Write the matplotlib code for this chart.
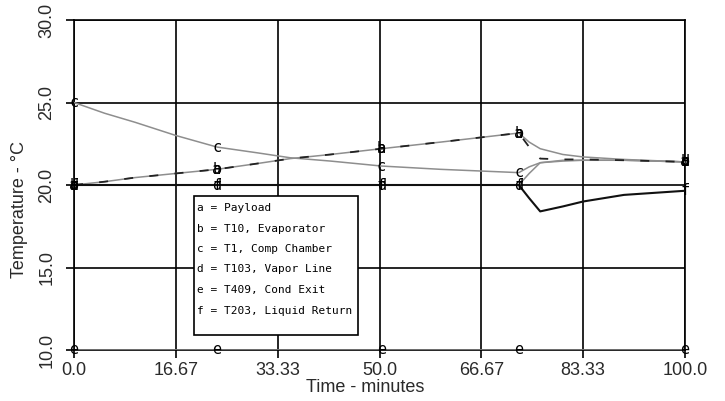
import matplotlib
matplotlib.use("Agg")
import matplotlib.pyplot as plt
from matplotlib.patches import Rectangle

plt.rcParams['font.family'] = ['Liberation Sans', 'DejaVu Sans']

# ---- data ----
time = [0, 5, 10, 16.67, 23.4, 30, 35.4, 42, 50.3, 60, 72.8, 74.5, 76.3, 80, 83.33, 90, 100]
payload = [20.0, 20.2, 20.45, 20.7, 20.95, 21.3, 21.6, 21.85, 22.2, 22.6, 23.15, 22.3, 21.6, 21.55, 21.55, 21.5, 21.4]
evaporator = [20.0, 20.2, 20.45, 20.7, 20.95, 21.3, 21.6, 21.85, 22.2, 22.6, 23.15, 22.6, 22.2, 21.85, 21.7, 21.55, 21.4]
comp_chamber = [25.0, 24.35, 23.8, 23.0, 22.3, 21.95, 21.65, 21.45, 21.15, 20.95, 20.75, 21.1, 21.35, 21.45, 21.5, 21.5, 21.4]
vapor_line = [20.0, 20.0, 20.0, 20.0, 20.0, 20.0, 20.0, 20.0, 20.0, 20.0, 20.0, 20.7, 21.35, 21.5, 21.5, 21.5, 21.4]
cond_exit = [10.0] * 17
liquid_return = [20.0, 20.0, 20.0, 20.0, 20.0, 20.0, 20.0, 20.0, 20.0, 20.0, 20.0, 19.2, 18.4, 18.7, 19.0, 19.4, 19.65]

marker_idx = [0, 4, 8, 10, 16]

legend_lines = ["a = Payload", "b = T10, Evaporator", "c = T1, Comp Chamber",
                "d = T103, Vapor Line", "e = T409, Cond Exit", "f = T203, Liquid Return"]
xticks = [0, 16.67, 33.33, 50.0, 66.67, 83.33, 100.0]
xticklabels = ["0.0", "16.67", "33.33", "50.0", "66.67", "83.33", "100.0"]
yticks = [10, 15, 20, 25, 30]
yticklabels = ["10.0", "15.0", "20.0", "25.0", "30.0"]

# ---- figure ----
W, H = 725, 401
fig = plt.figure(figsize=(W / 100, H / 100), dpi=100)
fig.patch.set_facecolor('white')
ax = fig.add_axes([74 / W, 1 - 350 / H, 611 / W, 330 / H])
ax.set_xlim(0, 100)
ax.set_ylim(10, 30)

ax.grid(True, color='black', lw=1.2, zorder=1)
for s in ax.spines.values():
    s.set_color('black')
    s.set_linewidth(1.2)

gray = '#8e8e8e'
ax.plot(time, evaporator, color=gray, lw=1.1, zorder=3)
ax.plot(time, comp_chamber, color=gray, lw=1.1, zorder=3)
ax.plot(time, vapor_line, color=gray, lw=1.1, zorder=3)
ax.plot(time, cond_exit, color=gray, lw=1.1, zorder=3)
ax.plot(time, payload, color='#222222', lw=1.3, dashes=(5, 9), zorder=4)
ax.plot(time, liquid_return, color='#111111', lw=1.5, zorder=4)

series = [('a', payload), ('b', evaporator), ('c', comp_chamber),
          ('d', vapor_line), ('e', cond_exit), ('f', liquid_return)]
for letter, vals in series:
    for i in marker_idx:
        ax.text(time[i], vals[i], letter, ha='center', va='center',
                fontsize=11, family='DejaVu Sans Mono', color='black', zorder=5,
                clip_on=False)

ax.set_xticks(xticks)
ax.set_xticklabels(xticklabels)
ax.set_yticks(yticks)
ax.set_yticklabels(yticklabels, rotation=90, va='center')
ax.tick_params(axis='both', direction='out', length=5.5, width=1.2, colors='black',
               labelsize=13, labelcolor='#2a2a2a')
ax.tick_params(axis='x', pad=3)
ax.tick_params(axis='y', pad=8)

# legend box
lx0, ly0, lx1, ly1 = 194, 196, 358, 335
rect = Rectangle((lx0 / W, 1 - ly1 / H), (lx1 - lx0) / W, (ly1 - ly0) / H,
                 transform=fig.transFigure, facecolor='white', edgecolor='black',
                 lw=1.2, zorder=10)
fig.add_artist(rect)
ys = [208, 228.5, 249, 269.5, 290, 310.5]
for txt, yy in zip(legend_lines, ys):
    fig.text(197 / W, 1 - yy / H, txt, ha='left', va='center', fontsize=8,
             family='DejaVu Sans Mono', color='black', zorder=11)

fig.text(364.7 / W, 1 - 387 / H, "Time - minutes", ha='center', va='center',
         fontsize=13, color='#2a2a2a')
fig.text(20 / W, 1 - 210 / H, "Temperature - °C", ha='center', va='center',
         rotation=90, fontsize=13, color='#2a2a2a')

fig.savefig("out.png", dpi=100, facecolor='white')
